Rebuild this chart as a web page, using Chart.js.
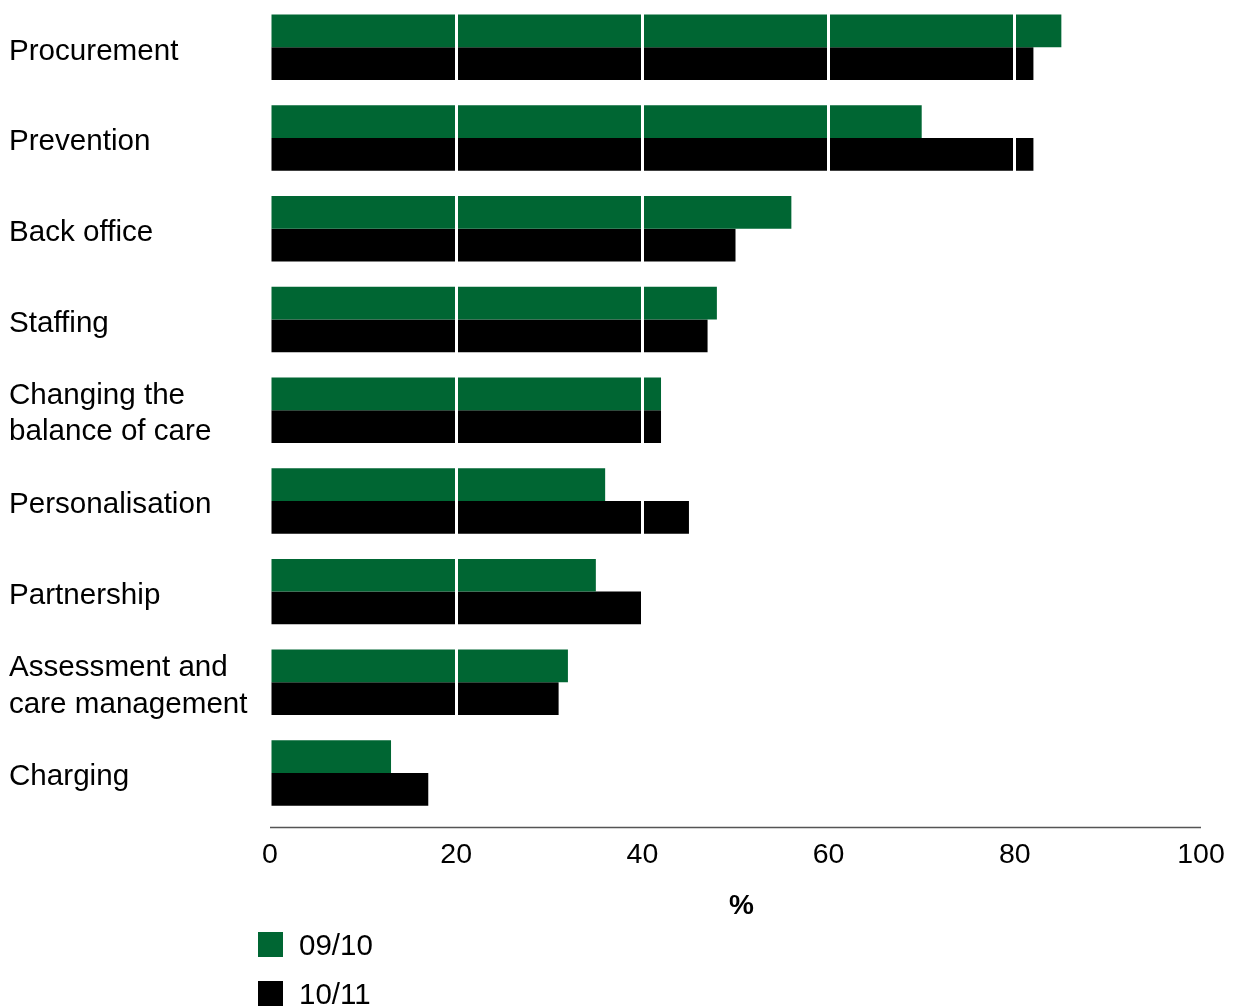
<!DOCTYPE html>
<html>
<head>
<meta charset="utf-8">
<script src="https://cdn.jsdelivr.net/npm/chart.js@4/dist/chart.umd.min.js"></script>
<style>
  html, body { margin: 0; padding: 0; background: #fff; }
  #wrap { position: relative; width: 1236px; height: 1008px; overflow: hidden; }
  canvas { position: absolute; left: 0; top: 0; }
  .lg { position: absolute; left: 258px; font: 29.5px "Liberation Sans", Arial, sans-serif; color: #000; display: flex; align-items: center; height: 25px; }
  .lg span.sw { display: inline-block; width: 25px; height: 25px; margin-right: 16px; }
</style>
</head>
<body>
<div id="wrap">
  <canvas id="c" width="1236" height="1008"></canvas>
  <div class="lg" style="top:932px"><span class="sw" style="background:#006633"></span>09/10</div>
  <div class="lg" style="top:981px"><span class="sw" style="background:#000"></span>10/11</div>
</div>
<script>
const categories = [
  "Procurement",
  "Prevention",
  "Back office",
  "Staffing",
  ["Changing the", "balance of care"],
  "Personalisation",
  "Partnership",
  ["Assessment and", "care management"],
  "Charging"
];
const series0910 = [85, 70, 56, 48, 42, 36, 35, 32, 13];
const series1011 = [82, 82, 50, 47, 42, 45, 40, 31, 17];
const xTicks = [0, 20, 40, 60, 80, 100];
const seriesNames = ["09/10", "10/11"];

const FONT = '"Liberation Sans", Arial, sans-serif';

const axisLine = {
  id: 'axisLine',
  afterDraw(chart) {
    const {ctx, chartArea} = chart;
    ctx.save();
    ctx.strokeStyle = '#555';
    ctx.lineWidth = 1.5;
    ctx.beginPath();
    ctx.moveTo(chartArea.left, chartArea.bottom + 9);
    ctx.lineTo(chartArea.right, chartArea.bottom + 9);
    ctx.stroke();
    ctx.restore();
  }
};

function zeroPad(scale) {
  scale.paddingTop = 0; scale.paddingBottom = 0;
  scale.paddingLeft = 0; scale.paddingRight = 0;
}

function shiftMethod(scale, name, dx, dy) {
  const flag = '_shifted_' + name;
  if (scale[flag]) return;
  const orig = scale[name];
  scale[name] = function (...args) {
    this.ctx.save();
    this.ctx.translate(dx, dy);
    orig.apply(this, args);
    this.ctx.restore();
  };
  scale[flag] = true;
}

new Chart(document.getElementById('c'), {
  type: 'bar',
  data: {
    labels: categories,
    datasets: [
      { label: seriesNames[0], data: series0910, backgroundColor: '#006633', categoryPercentage: 0.722, barPercentage: 1.0 },
      { label: seriesNames[1], data: series1011, backgroundColor: '#000000', categoryPercentage: 0.722, barPercentage: 1.0 }
    ]
  },
  options: {
    indexAxis: 'y',
    responsive: false,
    animation: false,
    layout: { padding: { left: 9, right: 35, top: 2, bottom: 0 } },
    plugins: { legend: { display: false }, tooltip: { enabled: false } },
    scales: {
      x: {
        min: 0, max: 100,
        afterBuildTicks(scale) { scale.ticks = xTicks.map(v => ({ value: v })); },
        afterFit(scale) { scale.height = 189.6; zeroPad(scale); shiftMethod(scale, 'drawTitle', 6, 0); },
        border: { display: false },
        grid: {
          z: 1,
          drawTicks: false,
          lineWidth: 3,
          color: (c) => (c.tick && (c.tick.value === 0 || c.tick.value === 100)) ? 'rgba(0,0,0,0)' : '#ffffff'
        },
        ticks: { color: '#000', padding: 20, font: { family: FONT, size: 28.5 } },
        title: { display: true, text: '%', color: '#000', font: { family: FONT, size: 28, weight: 'bold' }, padding: { top: 0, bottom: 85 } }
      },
      y: {
        afterFit(scale) { scale.width = 261; zeroPad(scale); shiftMethod(scale, 'drawLabels', 0, 4); },
        border: { display: false },
        grid: { display: false, drawTicks: false },
        ticks: { color: '#000', crossAlign: 'far', padding: 0, font: { family: FONT, size: 29.6, lineHeight: 1.22 } }
      }
    }
  },
  plugins: [axisLine]
});
</script>
</body>
</html>
